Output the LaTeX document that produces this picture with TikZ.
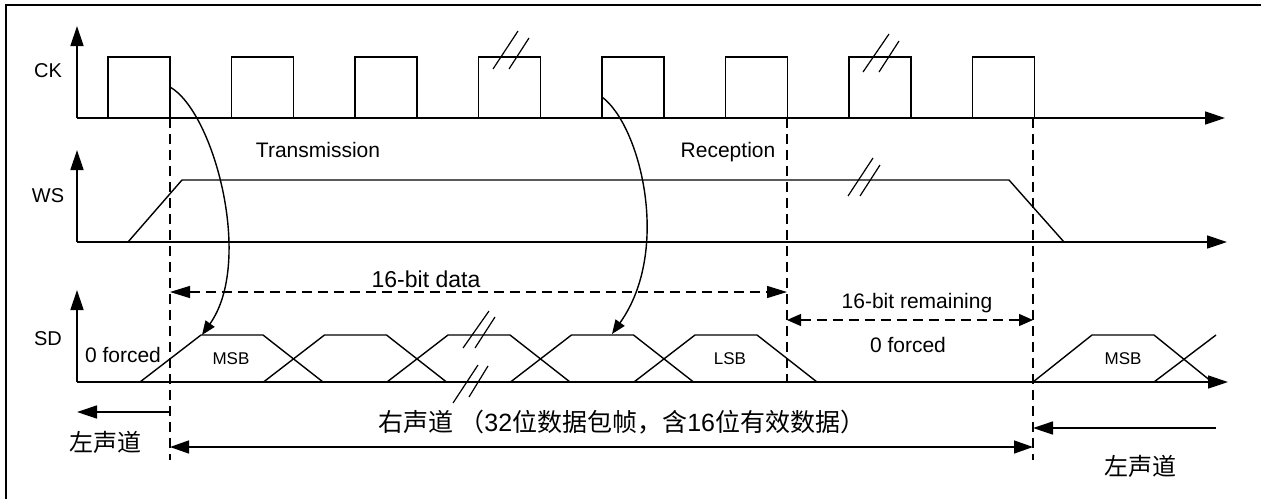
\documentclass[tikz,border=0pt]{standalone}
\usepackage{fontspec}
\setmainfont{Liberation Sans}
\newfontfamily\cjk{Noto Sans CJK SC}
\usetikzlibrary{arrows.meta}
\begin{document}
\begin{tikzpicture}[x=1pt,y=-1pt,line width=1.4pt,
  wave/.style={line width=1.4pt,line join=miter},
  axisline/.style={line width=1.4pt,-{Triangle[length=20pt,width=13pt]}},
  vdash/.style={line width=1.3pt,dash pattern=on 10pt off 6pt},
  dimbig/.style={line width=1.3pt,dash pattern=on 10pt off 6pt,{Triangle[length=20pt,width=12pt]}-{Triangle[length=20pt,width=12pt]}},
  dimsmall/.style={line width=1.3pt,dash pattern=on 10pt off 6pt,{Triangle[length=14pt,width=12pt]}-{Triangle[length=14pt,width=12pt]}},
  solidarrow/.style={line width=1.4pt,-{Triangle[length=20pt,width=13pt]}},
  solidboth/.style={line width=1.4pt,{Triangle[length=19pt,width=13pt]}-{Triangle[length=19pt,width=13pt]}},
  curv/.style={line width=1.4pt,-{Triangle[length=14pt,width=11pt]}},
  hash/.style={line width=1.2pt},
  lbl/.style={inner sep=0pt,anchor=base,font=\fontsize{21}{25}\selectfont},
  biglbl/.style={inner sep=0pt,anchor=base,font=\fontsize{23}{27}\selectfont},
  sig/.style={inner sep=0pt,anchor=base,font=\fontsize{20}{24}\selectfont},
  bitlbl/.style={inner sep=0pt,anchor=base,font=\fontsize{17}{20}\selectfont},
  cjklbl/.style={inner sep=0pt,anchor=center,font=\fontsize{24}{28}\selectfont\cjk},
  cjklong/.style={inner sep=0pt,anchor=center,font=\fontsize{25}{29}\selectfont}
]
\useasboundingbox (0,0) rectangle (1261,499);
% frame (only top and left edges visible)
\draw[line width=1.5pt] (6,499) -- (6,5) -- (1261,5);

% ---------- CK ----------
\coordinate (ck0) at (77,118);
\draw[axisline] (ck0) -- (77,26);
\draw[axisline] (ck0) -- (1225,118);
\foreach \a in {108,231.5,355,478.5,602,725.5,849,972.5}{
  \draw[wave] (\a,118) -- (\a,57) -- ({\a+62},57) -- ({\a+62},118);
}
\draw[hash] (493,69) -- (518,31);
\draw[hash] (509,69) -- (529,38);
\draw[hash] (863,72) -- (889,34);
\draw[hash] (879,72) -- (899,41);
\node[sig] (ck) at (48,77) {CK};

% ---------- WS ----------
\coordinate (ws0) at (77,242);
\draw[axisline] (ws0) -- (77,150);
\draw[axisline] (ws0) -- (1227,242);
\draw[wave] (128,242) -- (182,180) -- (1009,180) -- (1064,242);
\draw[hash] (848,196) -- (873,158);
\draw[hash] (860,196) -- (880,165);
\node[sig] (ws) at (48,202) {WS};
\node[lbl] (tx) at (318,157) {Transmission};
\node[lbl] (rx) at (728,157) {Reception};

% ---------- SD ----------
\coordinate (sd0) at (77,382);
\draw[axisline] (sd0) -- (77,290);
\draw[axisline] (sd0) -- (1228,382);
\foreach \k in {0,1,2,3,4}{
  \pgfmathsetmacro{\s}{140+123.5*\k}
  \draw[wave] (\s,382) -- ({\s+61},335) -- ({\s+123},335) -- ({\s+183},382);
}
\draw[wave] (1033,382) -- (1092,335) -- (1154,335) -- (1212,382);
\draw[wave] (1154,382) -- (1216,335);
\draw[hash] (463,348) -- (489,311);
\draw[hash] (475,348) -- (495,317);
\draw[hash] (453,403) -- (478,365);
\draw[hash] (469,397) -- (488,366);
\node[sig] (sd) at (48,345) {SD};
\node[lbl] (zf1) at (123,362) {0 forced};
\node[bitlbl] (msb1) at (231,364) {MSB};
\node[bitlbl] (lsb) at (730,364) {LSB};
\node[bitlbl] (msb2) at (1123,364) {MSB};
\node[lbl] (zf2) at (908,352) {0 forced};

% ---------- dashed verticals ----------
\coordinate (v1t) at (170,118); \coordinate (v1b) at (170,460);
\coordinate (v2t) at (787,118); \coordinate (v2b) at (787,382);
\coordinate (v3t) at (1033,118); \coordinate (v3b) at (1033,460);
\draw[vdash] (v1t) -- (v1b);
\draw[vdash] (v2t) -- (v2b);
\draw[vdash] (v3t) -- (v3b);

% ---------- dimension arrows ----------
\coordinate (d1a) at (170,292); \coordinate (d1b) at (787,292);
\draw[dimbig] (d1a) -- (d1b);
\node[biglbl] (bd) at (426,287) {16-bit data};
\coordinate (d2a) at (787,320); \coordinate (d2b) at (1033,320);
\draw[dimsmall] (d2a) -- (d2b);
\node[lbl] (br) at (917,308) {16-bit remaining};

% ---------- curved arrows ----------
\coordinate (c1s) at (170,87); \coordinate (c1e) at (202,335);
\draw[curv] (c1s) .. controls (214,112) and (254,262) .. (c1e);
\coordinate (c2s) at (602,97); \coordinate (c2e) at (612,334);
\draw[curv] (c2s) .. controls (640,125) and (672,250) .. (c2e);

% ---------- channel arrows ----------
\coordinate (l1a) at (170,412); \coordinate (l1b) at (77,412);
\draw[solidarrow] (l1a) -- (l1b);
\node[cjklbl] (lc1) at (105,442) {左声道};
\coordinate (r1a) at (170,447); \coordinate (r1b) at (1033,447);
\draw[solidboth] (r1a) -- (r1b);
\node[cjklong] (rc) at (622,422) {{\cjk 右声道 （}32{\cjk 位数据包帧，含}16{\cjk 位有效数据）}};
\coordinate (l2a) at (1216,428); \coordinate (l2b) at (1033,428);
\draw[solidarrow] (l2a) -- (l2b);
\node[cjklbl] (lc2) at (1140,466) {左声道};
\end{tikzpicture}
\end{document}
